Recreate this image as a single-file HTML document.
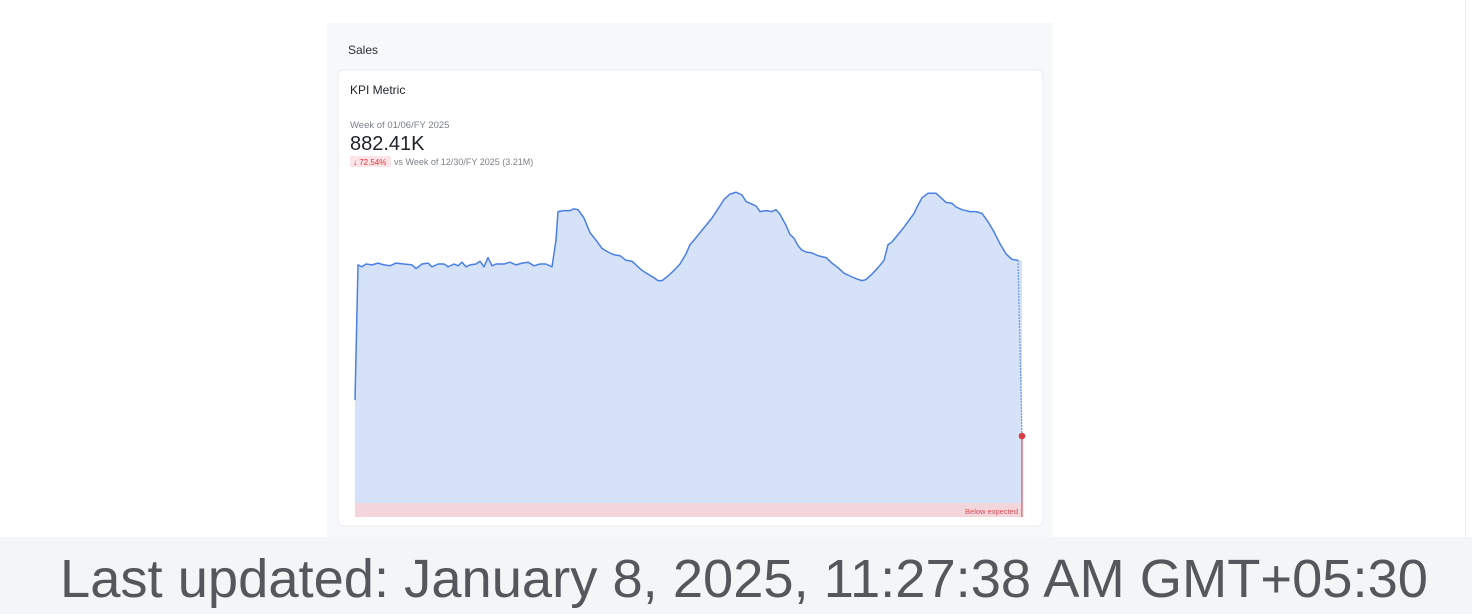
<!DOCTYPE html>
<html><head><meta charset="utf-8"><style>
html,body{margin:0;padding:0;background:#fff;width:1472px;height:614px;overflow:hidden;font-family:"Liberation Sans",sans-serif}
</style></head><body>
<svg width="1472" height="614" viewBox="0 0 1472 614" xmlns="http://www.w3.org/2000/svg" style="font-family:'Liberation Sans',sans-serif">
<rect x="0" y="0" width="1472" height="614" fill="#ffffff"/>
<line x1="1465.5" y1="0" x2="1465.5" y2="537" stroke="#eceef1"/>
<rect x="327" y="23" width="726" height="514" fill="#f7f8fa"/>
<text x="348" y="54" font-size="12" fill="#2b2f36">Sales</text>
<rect x="338" y="70" width="705" height="456" rx="5" fill="#ffffff" stroke="#e9ebef"/>
<text x="350" y="94" font-size="12" fill="#1f2329">KPI Metric</text>
<text x="350" y="128" font-size="9.5" fill="#7b808a">Week of 01/06/FY 2025</text>
<text x="350" y="150" font-size="20" fill="#1f2329">882.41K</text>
<rect x="350" y="156" width="41" height="11" rx="2" fill="#fde4e6"/>
<text x="353" y="165" font-size="8" fill="#d9363e">↓ 72.54%</text>
<text x="394" y="165" font-size="9" fill="#7b808a">vs Week of 12/30/FY 2025 (3.21M)</text>
<g id="chart"></g>
<rect x="0" y="537" width="1472" height="77" fill="#f4f5f7"/>
<text x="60" y="597" font-size="54" fill="#55575c" textLength="1368" lengthAdjust="spacingAndGlyphs">Last updated: January 8, 2025, 11:27:38 AM GMT+05:30</text>
</svg>
<script>
const times=[0,3,7,11,17,23,29,35,41,49,57,61,67,73,77,83,89,93,99,103,107,111,115,121,125,129,133,137,141,149,155,161,167,173,179,185,191,197,201,203,209,215,219,223,229,235,241,247,253,259,265,271,277,281,287,293,299,303,307,313,319,325,331,335,339,345,351,357,363,369,375,381,387,391,397,401,405,411,417,421,425,431,435,439,443,447,451,457,463,471,477,483,489,495,501,507,511,517,523,529,533,537,543,549,555,559,563,567,573,581,587,591,597,601,607,615,621,627,633,639,645,651,657,663];
const values=[1.27,2.74,2.72,2.75,2.74,2.76,2.74,2.73,2.76,2.75,2.74,2.70,2.75,2.76,2.72,2.75,2.75,2.72,2.75,2.73,2.77,2.72,2.74,2.75,2.78,2.72,2.82,2.73,2.75,2.75,2.77,2.74,2.76,2.77,2.73,2.75,2.75,2.72,3.01,3.32,3.33,3.33,3.35,3.34,3.25,3.09,3.01,2.92,2.88,2.85,2.84,2.79,2.78,2.74,2.68,2.64,2.60,2.57,2.57,2.62,2.68,2.75,2.86,2.96,3.01,3.09,3.17,3.25,3.35,3.45,3.51,3.53,3.50,3.43,3.40,3.38,3.32,3.33,3.32,3.34,3.29,3.17,3.07,3.03,2.95,2.90,2.88,2.87,2.84,2.82,2.76,2.71,2.65,2.62,2.59,2.57,2.58,2.64,2.71,2.79,2.96,2.99,3.07,3.15,3.24,3.30,3.39,3.47,3.52,3.52,3.46,3.42,3.41,3.37,3.34,3.32,3.32,3.30,3.21,3.10,2.97,2.86,2.80,2.79];
const currentTime=667;
const currentValue=0.88;
const bandLabel="Below expected";
const NS="http://www.w3.org/2000/svg";
const X0=355,X1=1022,T0=0,T1=667,YB=517,PXPERM=92;
function xs(t){return X0+(t-T0)/(T1-T0)*(X1-X0);}
function ys(v){return YB-v*PXPERM;}
const g=document.getElementById('chart');
function mk(tag,attrs){const e=document.createElementNS(NS,tag);for(const k in attrs)e.setAttribute(k,attrs[k]);g.appendChild(e);return e;}
let d='';
for(let i=0;i<values.length;i++){d+=(i?'L':'M')+xs(times[i]).toFixed(1)+','+ys(values[i]).toFixed(1);}
const lastX=xs(times[times.length-1]);
const area=mk('path',{d:d+'L'+xs(currentTime)+','+ys(values[values.length-1]).toFixed(1)+'L'+xs(currentTime)+','+YB+'L'+xs(times[0])+','+YB+'Z',fill:'#d6e2f8'});


const band=mk('rect',{x:X0,y:503,width:X1-X0,height:14,fill:'#f3d6db'});


const bt=mk('text',{x:X1-4,y:514,'font-size':7.5,fill:'#d9505a','text-anchor':'end'});
bt.textContent=bandLabel;


const line=mk('path',{d:d,fill:'none',stroke:'#4a7fe3','stroke-width':1.5,'stroke-linejoin':'round'});


const dot=mk('line',{x1:lastX,y1:ys(values[values.length-1]),x2:xs(currentTime),y2:ys(currentValue),stroke:'#4a7fe3','stroke-width':1.2,'stroke-dasharray':'1.5,1.5'});


const rl=mk('line',{x1:xs(currentTime),y1:ys(currentValue),x2:xs(currentTime),y2:YB,stroke:'#d9505a','stroke-width':1.2});


const pt=mk('circle',{cx:xs(currentTime),cy:ys(currentValue),r:3.3,fill:'#d63d45'});


</script>
</body></html>
